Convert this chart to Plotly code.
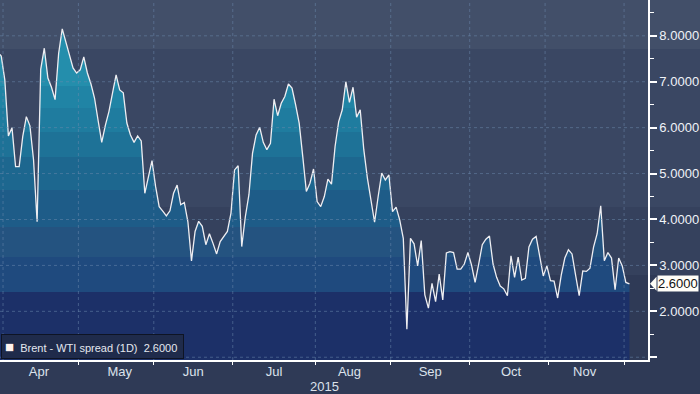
import pandas as pd
import plotly.graph_objects as go

# ---------------- data ----------------
series_name = "Brent - WTI spread (1D)"
year_label = "2015"
holidays = ["2015-04-03"]          # Good Friday, no print
first_day, last_day = "2015-03-30", "2015-12-02"

spread = [
    7.65, 7.56,                                                     # end Mar
    7.04, 5.82, 6.00, 5.15, 5.15, 5.81, 6.24, 6.04, 5.30, 3.95,     # Apr
    7.27, 7.73, 7.08, 6.88, 6.61, 7.62, 8.15, 7.85, 7.59, 7.30, 7.19,
    7.26, 7.54, 7.19, 6.95, 6.64, 6.15, 5.68, 6.05, 6.35, 6.75, 7.15,   # May
    6.82, 6.76, 6.10, 5.84, 5.68, 5.82, 5.71, 4.57, 4.93, 5.28, 4.72,
    4.28, 4.18, 4.08, 4.19, 4.57, 4.75, 4.32, 4.37, 3.95, 3.10, 3.74,   # Jun
    3.96, 3.85, 3.45, 3.69, 3.48, 3.25, 3.52, 3.63, 3.74, 4.14, 5.08,
    5.17, 3.41, 4.06, 4.54, 5.44, 5.84, 6.01, 5.68, 5.52, 5.66, 6.62,   # Jul
    6.26, 6.53, 6.68, 6.95, 6.86, 6.50, 6.10, 5.37, 4.61, 4.79, 5.10,
    4.39, 4.28, 4.50, 4.88, 4.77, 5.59, 6.13, 6.39, 7.00, 6.55, 6.88,   # Aug
    6.23, 6.39, 5.52, 4.90, 4.45, 3.94, 4.50, 5.01, 4.86, 4.97, 4.17,
    4.27, 3.99, 3.59, 1.61, 3.59, 3.47, 2.99, 3.54, 2.36, 2.07, 2.61,   # Sep
    2.21, 2.81, 2.25, 3.27, 3.30, 3.28, 2.92, 2.92, 3.03, 3.28, 3.01,
    2.63, 3.03, 3.45, 3.57, 3.64, 3.03, 2.74, 2.55, 2.49, 2.34, 3.21,   # Oct
    2.74, 3.18, 2.68, 2.72, 3.40, 3.57, 3.63, 3.19, 2.77, 2.99, 2.67,
    2.66, 2.29, 2.79, 3.16, 3.34, 3.25, 2.79, 2.34, 2.88, 2.87, 2.94,   # Nov
    3.40, 3.69, 4.30, 3.10, 3.28, 3.16, 2.47, 3.16, 2.99, 2.63, 2.60,   # Dec
]

y_ticks = [1, 2, 3, 4, 5, 6, 7, 8]

days = pd.bdate_range(first_day, last_day)
days = days[~days.isin(pd.to_datetime(holidays))]
dates = days + pd.Timedelta(hours=12)
assert len(dates) == len(spread)
month_starts = pd.date_range("2015-04-01", "2015-12-01", freq="MS")

# ---------------- style ----------------
W, H = 700, 394
PLOT_H = 360
Y_RANGE = [0.94, 8.78]
X_RANGE = ["2015-03-31 03:50", "2015-12-09 16:00"]
PAPER = "#2F3A56"
BG_BANDS = [(0.864, 1.0, "#424F69"), (0.425, 0.864, "#3A4763"), (0.236, 0.425, "#35415D")]
FILL_EDGES = [2.42, 3.19, 3.84, 4.64, 5.36, 5.91, 6.43, 6.90]
FILL_COLORS = ["#1C3068", "#1F4A7E", "#245380", "#1E5C88", "#1D678F",
               "#1E7297", "#1F7C9F", "#2084A5", "#248EAC"]
GRID = "rgba(110,140,175,0.5)"

span = Y_RANGE[1] - Y_RANGE[0]
stops = [0.0] + [(e - Y_RANGE[0]) / span for e in FILL_EDGES] + [1.0]
cscale = []
for i, c in enumerate(FILL_COLORS):
    cscale.append([stops[i], c])
    cscale.append([stops[i + 1], c])

fig = go.Figure()
fig.add_trace(go.Scatter(
    x=dates, y=spread, mode="lines", name=series_name, showlegend=False,
    line=dict(color="#EEEEF2", width=1.3),
    fill="tozeroy",
    fillgradient=dict(type="vertical", colorscale=cscale,
                      start=Y_RANGE[0], stop=Y_RANGE[1]),
    hoverinfo="skip",
))

shapes = []
for y0, y1, col in BG_BANDS:
    shapes.append(dict(type="rect", xref="paper", yref="paper", x0=0, x1=1.1,
                       y0=y0, y1=y1, fillcolor=col, line_width=0, layer="below"))
for v in y_ticks:
    shapes.append(dict(type="line", xref="paper", yref="y", x0=0, x1=1, y0=v, y1=v,
                       line=dict(color=GRID, width=1, dash="dot"), layer="above"))
for d in month_starts:
    shapes.append(dict(type="line", xref="x", yref="paper", x0=d, x1=d, y0=0, y1=1,
                       line=dict(color=GRID, width=1, dash="dot"), layer="above"))

# last value tag
px_per_unit = PLOT_H / span
last = spread[-1]
h = 7 / px_per_unit
xa, xb = 1 + 2 / 648, 1 + 8.5 / 648
shapes.append(dict(type="path", xref="paper", yref="y",
                   path=f"M {xa},{last} L {xb},{last + h} L {xb},{last - h} Z",
                   fillcolor="#FFFEF8", line_width=0, layer="above"))

legend_text = (
    "<span style='font-size:15px;color:#FFF3EF'>\u25A0</span>"
    f"\u00a0 {series_name} \u00a0{last:.4f}\u00a0"
)

fig.update_layout(
    width=W, height=H,
    margin=dict(l=0, r=52, t=0, b=34, autoexpand=False),
    paper_bgcolor=PAPER, plot_bgcolor=PAPER,
    shapes=shapes,
    showlegend=False,
    font=dict(family="Liberation Sans, Arial, sans-serif", color="#E4E8EF"),
    annotations=[
        dict(xref="paper", yref="y", x=xb, y=last, xanchor="left",
             yanchor="middle", text=f"{last:.4f}", showarrow=False,
             bgcolor="#FFFEF8", borderpad=0,
             font=dict(size=13, color="#111111")),
        dict(xref="paper", yref="paper", x=0.0015, y=0.003,
             xanchor="left", yanchor="bottom", text=legend_text, showarrow=False,
             bgcolor="#1F2B4B", bordercolor="#0E1424", borderwidth=1, borderpad=3,
             font=dict(size=11, color="#E4E8EF")),
        dict(xref="paper", yref="paper", x=0.5, y=-26 / PLOT_H,
             xanchor="center", yanchor="middle", text=year_label, showarrow=False,
             font=dict(size=13, color="#DCE2EC")),
    ],
)
fig.update_xaxes(
    type="date", range=X_RANGE,
    rangebreaks=[dict(bounds=["sat", "mon"]), dict(values=holidays)],
    dtick="M1", tick0="2015-01-01", tickformat="%b", ticklabelmode="period",
    showgrid=False, zeroline=False,
    showline=True, linecolor="white", linewidth=1.5,
    ticks="outside", ticklen=3, tickcolor="white", tickwidth=1,
    ticklabelstandoff=-4,
    tickfont=dict(size=13, color="#DCE2EC"),
    automargin=False,
)
fig.update_yaxes(
    side="right", range=Y_RANGE,
    tickmode="linear", tick0=0, dtick=1, tickformat=".4f",
    labelalias={"1.0000": " "},
    showgrid=False, zeroline=False,
    showline=True, linecolor="white", linewidth=1.5,
    ticks="outside", ticklen=7, tickcolor="white", tickwidth=2,
    minor=dict(dtick=0.5, tick0=0, ticks="outside", ticklen=4,
               tickcolor="white", tickwidth=1, showgrid=False),
    tickfont=dict(size=13, color="#F0F3F8"),
    automargin=False,
)

fig.write_html(
    "out.html",
    config={"displayModeBar": False},
    post_script="document.body.style.margin='0';document.body.style.overflow='hidden';",
)
